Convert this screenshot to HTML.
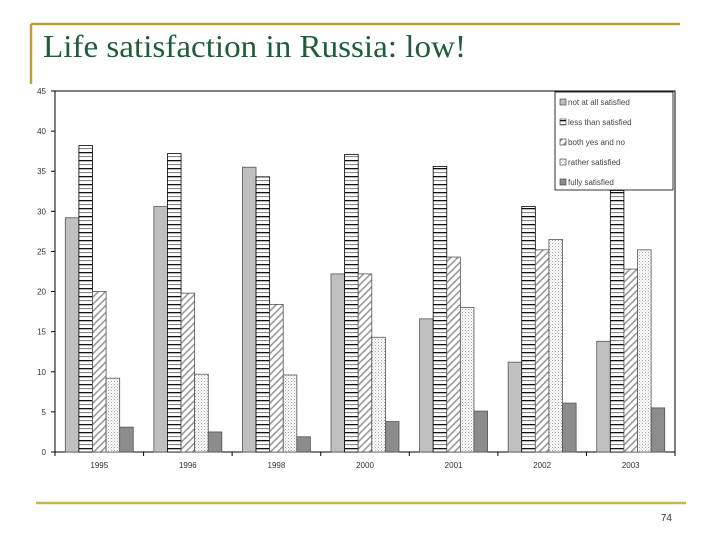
<!DOCTYPE html>
<html><head><meta charset="utf-8"><style>
body{margin:0;background:#fff;width:720px;height:540px;overflow:hidden;font-family:"Liberation Sans",sans-serif}
</style></head><body>
<svg width="720" height="540" xmlns="http://www.w3.org/2000/svg">
<defs>
<pattern id="pHoriz" width="4" height="8" patternUnits="userSpaceOnUse"><rect width="4" height="8" fill="#fff"/><rect y="0" width="4" height="1.3" fill="#111"/><rect y="4" width="4" height="1.1" fill="#888"/></pattern>
<pattern id="pDiag" width="5" height="5" patternUnits="userSpaceOnUse" patternTransform="rotate(45)"><rect width="5" height="5" fill="#fff"/><rect width="1.6" height="5" fill="#999"/></pattern>
<pattern id="pDots" width="3" height="3" patternUnits="userSpaceOnUse"><rect width="3" height="3" fill="#fff"/><rect width="1" height="1" fill="#aaa"/><rect x="1.5" y="1.5" width="1" height="1" fill="#bbb"/></pattern>
</defs>
<line x1="31" y1="24" x2="680" y2="24" stroke="#b8a040" stroke-width="2.5"/>
<line x1="31" y1="24" x2="31" y2="84" stroke="#b8a040" stroke-width="2.5"/>
<text x="43" y="57" font-family="Liberation Serif,serif" font-size="32" textLength="423" lengthAdjust="spacingAndGlyphs" fill="#1f5c3a">Life satisfaction in Russia: low!</text>
<line x1="36" y1="503" x2="686" y2="503" stroke="#c8b840" stroke-width="2.5"/>
<text x="672" y="521" font-size="10" fill="#333" text-anchor="end">74</text>
<g id="chart"></g>
</svg>
<script>
const categories=["1995","1996","1998","2000","2001","2002","2003"];
const seriesNames=["not at all satisfied","less than satisfied","both yes and no","rather satisfied","fully satisfied"];
const notAtAll=[29.2,30.6,35.5,22.2,16.6,11.2,13.8];
const lessThan=[38.2,37.2,34.3,37.1,35.6,30.6,32.6];
const bothYesNo=[20.0,19.8,18.4,22.2,24.3,25.2,22.8];
const rather=[9.2,9.7,9.6,14.3,18.0,26.5,25.2];
const fully=[3.1,2.5,1.9,3.8,5.1,6.1,5.5];
const yTicks=[0,5,10,15,20,25,30,35,40,45];
const series=[notAtAll,lessThan,bothYesNo,rather,fully];
const fills=["#c0c0c0","url(#pHoriz)","url(#pDiag)","url(#pDots)","#8c8c8c"];
const NS="http://www.w3.org/2000/svg";
const g=document.getElementById('chart');
const L=55,R=675,T=91,B=452,yMax=45;
const y=v=>B-(v/yMax)*(B-T);
const gw=(R-L)/categories.length;
const bw=13.6;
const x=(ci,si)=>L+ci*gw+(gw-bw*5)/2+si*bw;
function mk(t,a){const e=document.createElementNS(NS,t);for(const k in a)e.setAttribute(k,a[k]);g.appendChild(e);return e;}
let e=mk('rect',{x:L,y:T,width:R-L,height:B-T,fill:'#fff',stroke:'#000','stroke-width':1});


yTicks.forEach(t=>{
 let tk=mk('line',{x1:L-4,x2:L,y1:y(t),y2:y(t),stroke:'#000'});
 
 
 let lb=mk('text',{x:L-9,y:y(t)+3,'font-size':8,'text-anchor':'end',fill:'#333'});
 lb.textContent=t;
 
 
});
categories.forEach((c,ci)=>{
 series.forEach((s,si)=>{
  let r=mk('rect',{x:x(ci,si),y:y(s[ci]),width:bw,height:B-y(s[ci]),fill:fills[si],stroke:si==1?'#000':'#555','stroke-width':0.8});
  
  
 });
 let lb=mk('text',{x:L+ci*gw+gw/2,y:B+16,'font-size':8,'text-anchor':'middle',fill:'#333'});
 lb.textContent=c;
 
 
});
for(let i=0;i<=categories.length;i++){
 let tk=mk('line',{x1:L+i*gw,x2:L+i*gw,y1:B,y2:B+4,stroke:'#000'});
 
 
}
let lg=mk('rect',{x:555,y:92,width:118,height:98,fill:'#fff',stroke:'#000','stroke-width':0.8});


seriesNames.forEach((n,i)=>{
 let sw=mk('rect',{x:560,y:99+i*20,width:6,height:6,fill:fills[i],stroke:'#333','stroke-width':0.6});
 
 
 let t=mk('text',{x:568,y:105+i*20,'font-size':8,fill:'#444'});
 t.textContent=n;
 
 
});
</script>
</body></html>
